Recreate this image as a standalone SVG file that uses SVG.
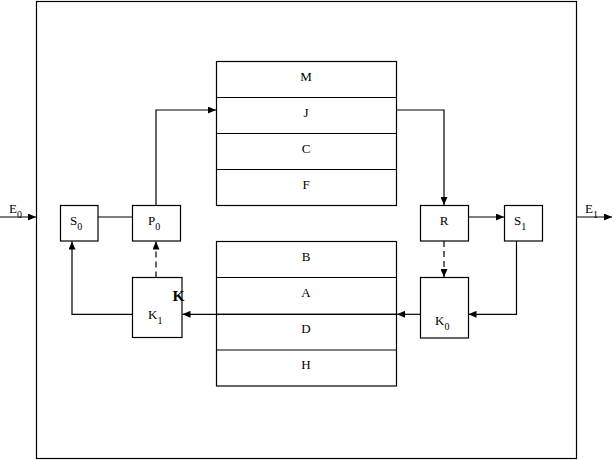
<svg xmlns="http://www.w3.org/2000/svg" width="615" height="460" viewBox="0 0 615 460">
<style>
rect{fill:none;stroke:#000;stroke-width:1.2}
.c{fill:none;stroke:#000;stroke-width:1.2}
.d{stroke-dasharray:6,4}
text{font-family:"Liberation Serif","Times New Roman",serif;font-size:13px;fill:#000}
.m{text-anchor:middle}
.s{font-size:10px}
</style>
<defs>
<marker id="a" markerWidth="8" markerHeight="7" refX="8" refY="3.5" orient="auto" markerUnits="userSpaceOnUse">
<path d="M0,0 L8,3.5 L0,7 Z" fill="#000"/>
</marker>
</defs>
<rect x="0" y="0" width="615" height="460" style="fill:#fff;stroke:none"/>
<g id="frame"><rect x="36.5" y="1.5" width="540" height="457"/></g>
<g id="top-stack">
<rect x="216.5" y="61.5" width="180" height="144"/>
<line class="c" x1="216.5" y1="97.5" x2="396.5" y2="97.5"/>
<line class="c" x1="216.5" y1="133.5" x2="396.5" y2="133.5"/>
<line class="c" x1="216.5" y1="169.5" x2="396.5" y2="169.5"/>
<text class="m" x="306" y="80.5">M</text>
<text class="m" x="306" y="117">J</text>
<text class="m" x="306" y="153">C</text>
<text class="m" x="306" y="189">F</text>
</g>
<g id="bottom-stack">
<rect x="216.5" y="241.5" width="180" height="144.5"/>
<line class="c" x1="216.5" y1="277.5" x2="396.5" y2="277.5"/>
<line class="c" x1="216.5" y1="314.3" x2="396.5" y2="314.3"/>
<line class="c" x1="216.5" y1="350" x2="396.5" y2="350"/>
<text class="m" x="306" y="260.5">B</text>
<text class="m" x="306" y="296.5">A</text>
<text class="m" x="306" y="332.5">D</text>
<text class="m" x="306" y="369">H</text>
</g>
<g id="S0"><rect x="60.5" y="205.5" width="37.5" height="35.5"/><text x="70" y="225">S<tspan class="s" dy="5">0</tspan></text></g>
<g id="P0"><rect x="132.5" y="205.5" width="48" height="35.5"/><text x="148" y="225">P<tspan class="s" dy="5">0</tspan></text></g>
<g id="K1"><rect x="132.5" y="277.5" width="49.5" height="60"/><text x="148" y="319">K<tspan class="s" dy="5">1</tspan></text><text x="172.5" y="300.5" style="font-size:15.5px;font-weight:bold">K</text></g>
<g id="R"><rect x="420.5" y="205.5" width="48" height="35.5"/><text class="m" x="444" y="225">R</text></g>
<g id="S1"><rect x="504.5" y="205.5" width="38" height="35.5"/><text x="514" y="225">S<tspan class="s" dy="5">1</tspan></text></g>
<g id="K0"><rect x="420.5" y="277.5" width="48" height="60.5"/><text x="435" y="325">K<tspan class="s" dy="5">0</tspan></text></g>
<g id="E0"><text x="9" y="213">E<tspan class="s" dy="5">0</tspan></text></g>
<g id="E1"><text x="585" y="213">E<tspan class="s" dy="5">1</tspan></text></g>
<g id="connectors">
<line class="c" x1="0" y1="217" x2="36" y2="217" marker-end="url(#a)"/>
<line class="c" x1="576.5" y1="217" x2="612" y2="217" marker-end="url(#a)"/>
<line class="c" x1="98" y1="217" x2="132.5" y2="217"/>
<polyline class="c" points="156,205.5 156,110 216,110" marker-end="url(#a)"/>
<polyline class="c" points="396.5,110 444,110 444,205" marker-end="url(#a)"/>
<line class="c" x1="468.5" y1="217" x2="504" y2="217" marker-end="url(#a)"/>
<line class="c d" x1="444" y1="241" x2="444" y2="277" marker-end="url(#a)"/>
<polyline class="c" points="516.5,241 516.5,314.3 468.5,314.3" marker-end="url(#a)"/>
<line class="c" x1="420.5" y1="314.3" x2="397" y2="314.3" marker-end="url(#a)"/>
<line class="c" x1="396.5" y1="314.3" x2="182.5" y2="314.3" marker-end="url(#a)"/>
<line class="c d" x1="156" y1="277.5" x2="156" y2="241.5" marker-end="url(#a)"/>
<polyline class="c" points="132.5,314.3 72,314.3 72,241.5" marker-end="url(#a)"/>
</g>
</svg>
